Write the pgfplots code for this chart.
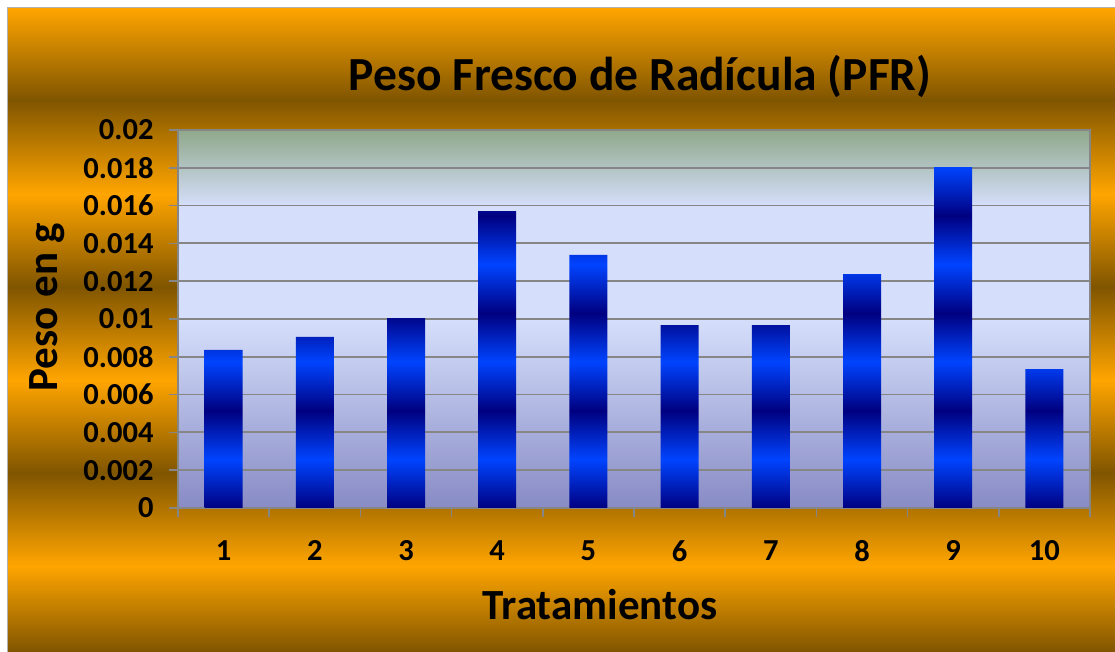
\documentclass[border=0pt]{standalone}
\usepackage{fontspec}
\setmainfont{Carlito}
\usepackage{pgfplots}
\pgfplotsset{compat=1.18}

\definecolor{bgorange}{RGB}{255,165,0}
\definecolor{bgdark}{RGB}{128,85,0}
\definecolor{barbright}{RGB}{0,68,255}
\definecolor{bardark}{RGB}{0,0,128}
\definecolor{gridgray}{RGB}{134,134,134}
\definecolor{pbot}{RGB}{136,139,197}
\definecolor{plight}{RGB}{213,223,251}
\definecolor{ptop}{RGB}{143,168,138}

\pgfdeclareverticalshading{bgshade}{100bp}{color(0bp)=(bgdark); color(25bp)=(bgdark); color(31.68bp)=(bgorange); color(38.9bp)=(bgdark); color(46.12bp)=(bgorange); color(53.34bp)=(bgdark); color(60.56bp)=(bgorange); color(67.86bp)=(bgdark); color(75bp)=(bgorange); color(100bp)=(bgorange)}
\pgfdeclareverticalshading{barshade}{100bp}{color(0bp)=(bardark); color(25bp)=(bardark); color(32.14bp)=(barbright); color(39.29bp)=(bardark); color(46.43bp)=(barbright); color(53.57bp)=(bardark); color(60.71bp)=(barbright); color(67.86bp)=(bardark); color(75bp)=(barbright); color(100bp)=(barbright)}
\pgfdeclareverticalshading{plotshade}{100bp}{color(0bp)=(pbot); color(25bp)=(pbot); color(50bp)=(plight); color(65bp)=(plight); color(75bp)=(ptop); color(100bp)=(ptop)}

\begin{document}
\begin{tikzpicture}[x=1pt,y=1pt]
\path[use as bounding box] (0,0) rectangle (1115,652);
\fill[white] (0,0) rectangle (1115,652);
\shade[shading=bgshade] (7,0) rectangle (1115,644);
\draw[gray!60, line width=1pt] (7,0) -- (7,644) -- (1115,644);
\begin{axis}[
  at={(178pt,144pt)}, anchor=south west,
  width=912pt, height=378pt, scale only axis,
  xmin=0.5, xmax=10.5, ymin=0, ymax=0.02,
  axis background/.style={shading=plotshade},
  ybar, bar width=38pt,
  xtick={1,2,3,4,5,6,7,8,9,10},
  xticklabels={1,2,3,4,5,6,7,8,9,10},
  major x tick style={draw=none},
  minor xtick={0.5,1.5,2.5,3.5,4.5,5.5,6.5,7.5,8.5,9.5,10.5},
  xtick pos=lower, ytick pos=left,
  ytick={0,0.002,0.004,0.006,0.008,0.01,0.012,0.014,0.016,0.018,0.02},
  yticklabels={0,0.002,0.004,0.006,0.008,0.01,0.012,0.014,0.016,0.018,0.02},
  scaled y ticks=false,
  ymajorgrids, grid style={gridgray, line width=1.8pt},
  tick align=outside, major tick length=9pt, minor tick length=9pt,
  tick style={gridgray, line width=1.5pt},
  axis line style={gridgray, line width=1.5pt},
  ticklabel style={font=\bfseries\fontsize{30.5}{30.5}\selectfont},
  xticklabel style={yshift=-20pt},
  yticklabel style={xshift=-12pt},
  /pgf/number format/assume math mode=true,
]
\addplot[draw=none, shading=barshade] coordinates {
(1,0.00836) (2,0.00905) (3,0.01005) (4,0.01571) (5,0.01339)
(6,0.00968) (7,0.00968) (8,0.01238) (9,0.01804) (10,0.00735)};
\end{axis}
\node[font=\bfseries\fontsize{47.5}{47.5}\selectfont] at (640,576) {Peso Fresco de Radícula (PFR)};
\node[font=\bfseries\fontsize{43}{43}\selectfont] at (600,47) {Tratamientos};
\node[font=\bfseries\fontsize{43}{43}\selectfont, rotate=90] at (47,345) {Peso en g};
\end{tikzpicture}
\end{document}
